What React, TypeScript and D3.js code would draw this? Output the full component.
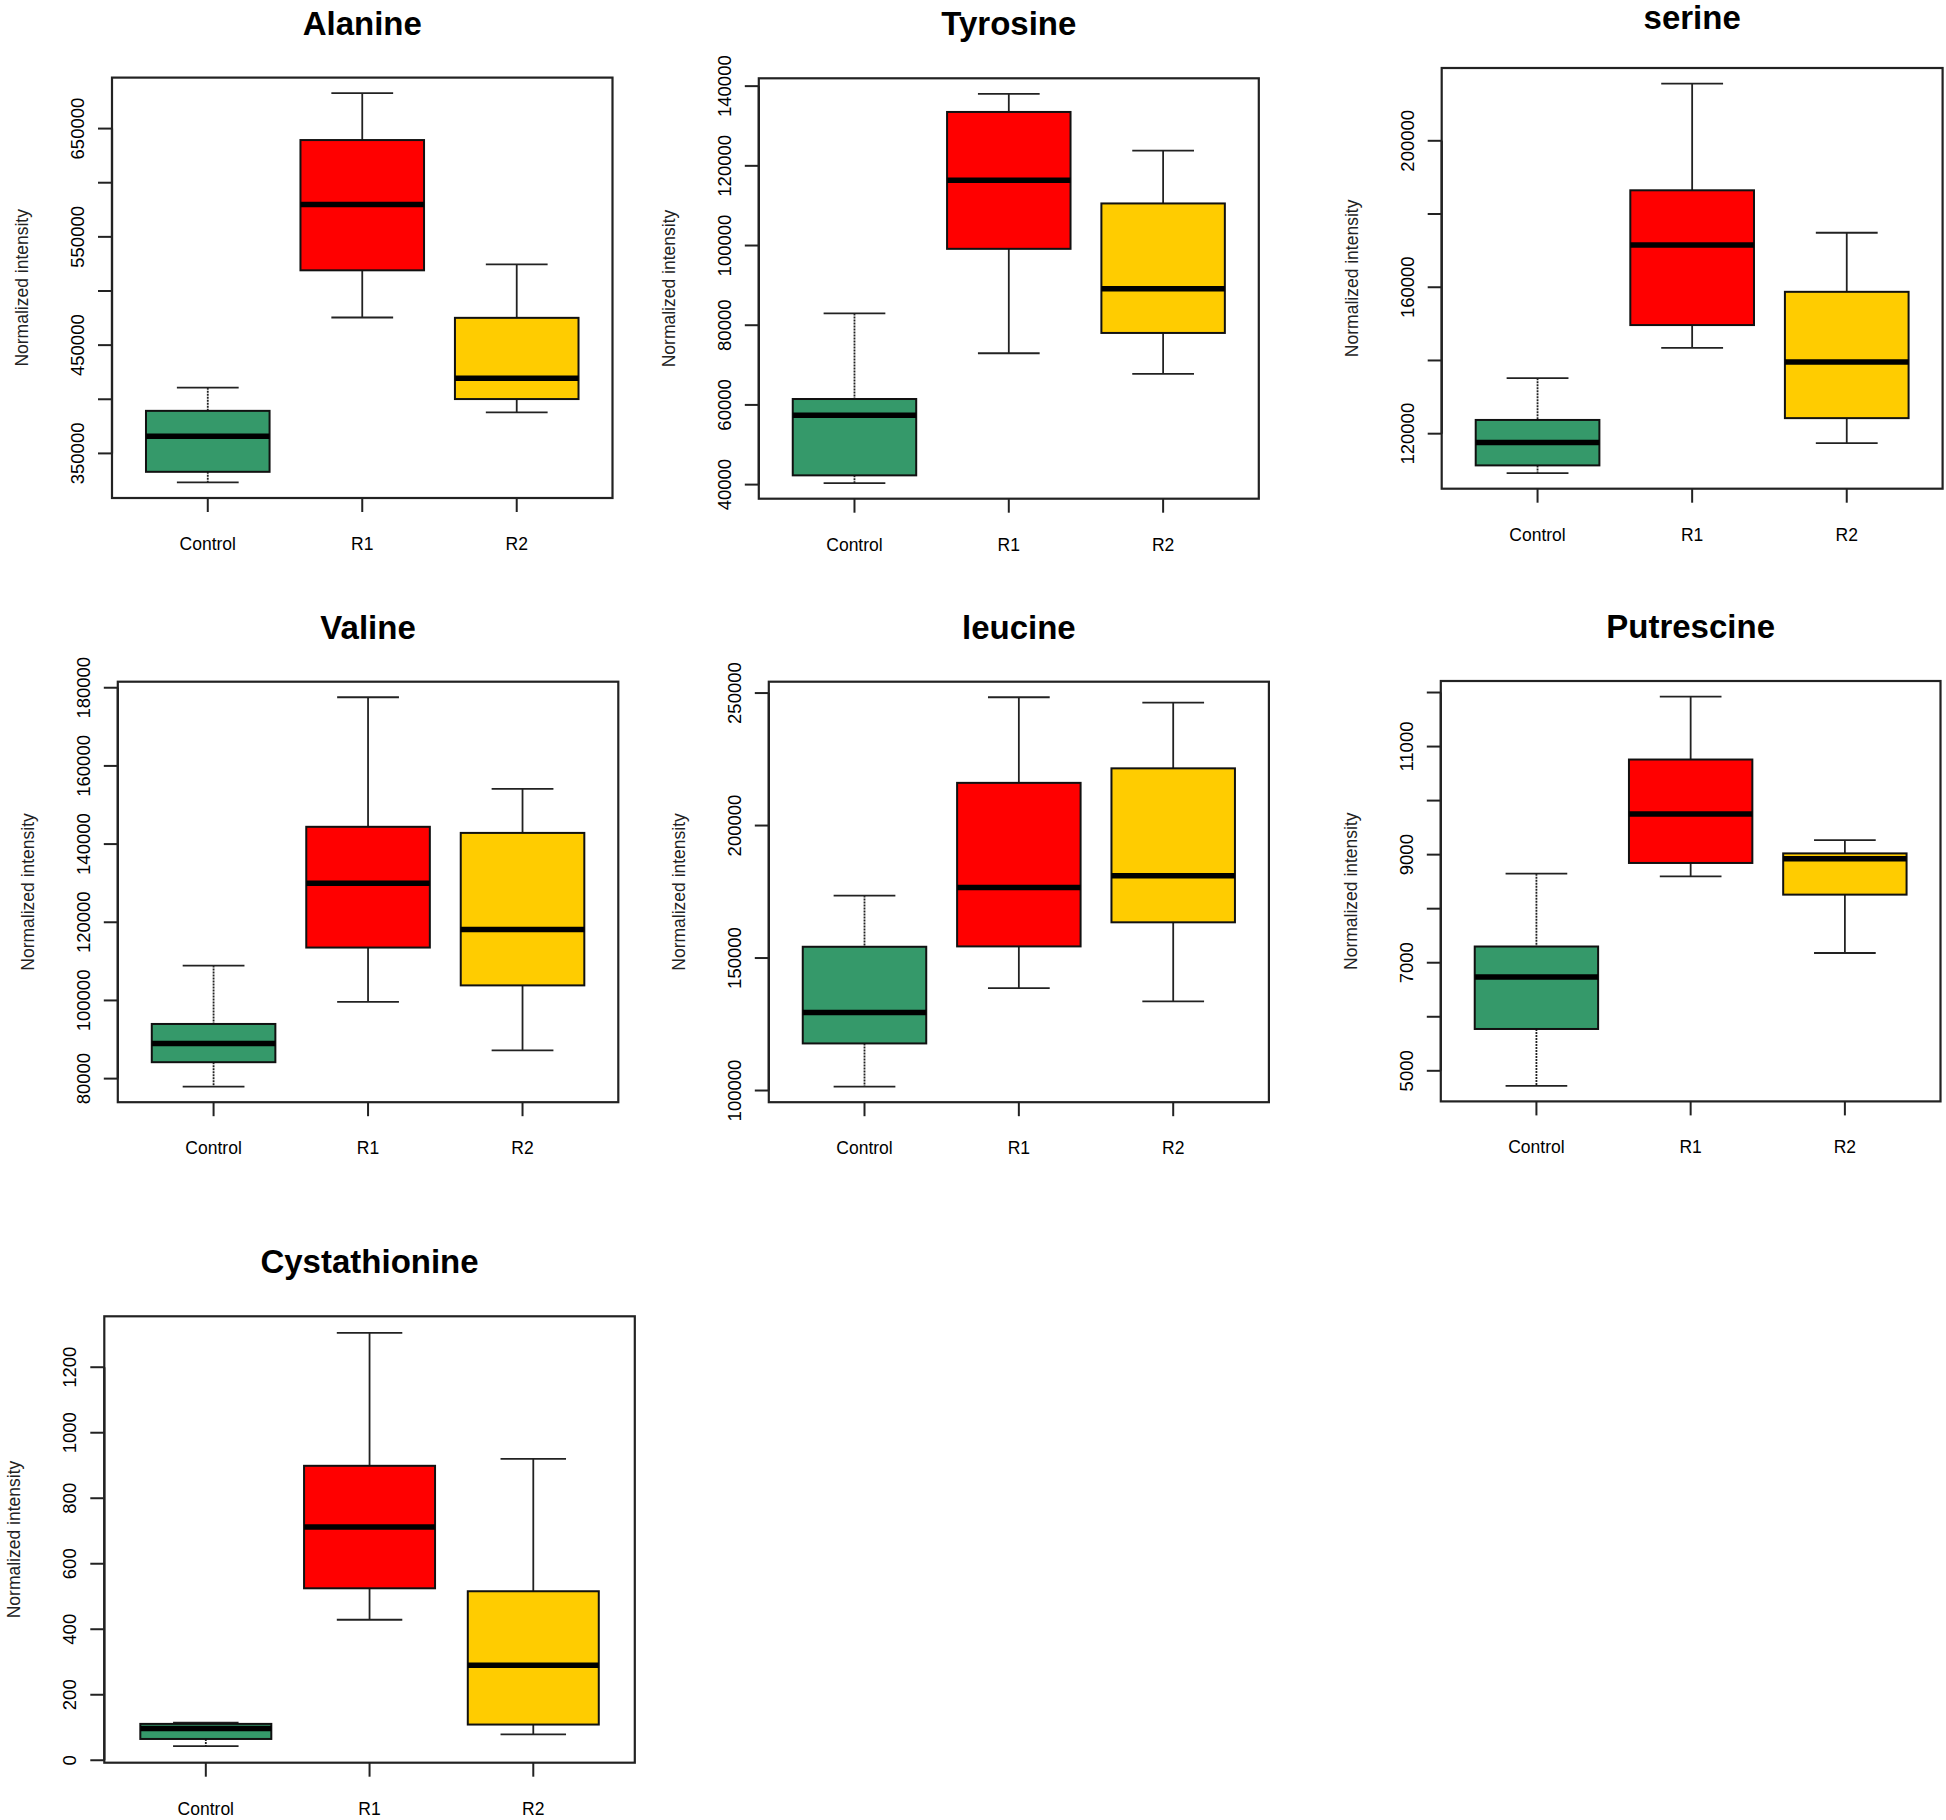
import React from 'react';
import * as d3 from 'd3';

// groups shared by every panel
const groups = ['Control', 'R1', 'R2'];
const groupColors = ['#35996a', '#ff0000', '#ffcc00'];

// box stats per group: [lower whisker, Q1, median, Q3, upper whisker]
const alanine = [
  [323200, 333000, 365800, 389300, 410700],
  [475500, 519100, 579800, 639400, 682700],
  [387900, 400200, 419300, 475200, 524600],
];
const tyrosine = [
  [40370, 42320, 57410, 61480, 82960],
  [72970, 99170, 116390, 133520, 138060],
  [67780, 78060, 89170, 110560, 123800],
];
const serine = [
  [109230, 111340, 117600, 123750, 135150],
  [143420, 149670, 171560, 186480, 215630],
  [117400, 124250, 139580, 158750, 174890],
];
const valine = [
  [77950, 84200, 88990, 93980, 108930],
  [99650, 113530, 129950, 144420, 177560],
  [87240, 103850, 118120, 142860, 154100],
];
const leucine = [
  [101470, 117770, 129450, 154250, 173570],
  [138680, 154390, 176600, 216110, 248410],
  [133630, 163480, 181070, 221590, 246400],
];
const putrescine = [
  [4722, 5774, 6735, 7300, 8648],
  [8599, 8846, 9750, 10760, 11925],
  [7180, 8260, 8924, 9023, 9270],
];
const cystathionine = [
  [43, 65, 97, 111, 115],
  [429, 525, 712, 899, 1305],
  [79, 109, 290, 516, 920],
];

// y ticks and the ones that carry a label
const alanineTicks = [350000, 400000, 450000, 500000, 550000, 600000, 650000];
const alanineLabels = [350000, 450000, 550000, 650000];
const tyrosineTicks = [40000, 60000, 80000, 100000, 120000, 140000];
const serineTicks = [120000, 140000, 160000, 180000, 200000];
const serineLabels = [120000, 160000, 200000];
const valineTicks = [80000, 100000, 120000, 140000, 160000, 180000];
const leucineTicks = [100000, 150000, 200000, 250000];
const putrescineTicks = [5000, 6000, 7000, 8000, 9000, 10000, 11000, 12000];
const putrescineLabels = [5000, 7000, 9000, 11000];
const cystathionineTicks = [0, 200, 400, 600, 800, 1000, 1200];

const panels = [
  { title: 'Alanine', stats: alanine, ticks: alanineTicks, labels: alanineLabels, x: 112, y: 77.6, w: 500.5, h: 420.4 },
  { title: 'Tyrosine', stats: tyrosine, ticks: tyrosineTicks, labels: tyrosineTicks, x: 758.8, y: 78.3, w: 500, h: 420.4 },
  { title: 'serine', stats: serine, ticks: serineTicks, labels: serineLabels, x: 1441.7, y: 68, w: 500.9, h: 420.7 },
  { title: 'Valine', stats: valine, ticks: valineTicks, labels: valineTicks, x: 117.8, y: 681.7, w: 500.5, h: 420.5 },
  { title: 'leucine', stats: leucine, ticks: leucineTicks, labels: leucineTicks, x: 768.8, y: 681.7, w: 500.1, h: 420.5 },
  { title: 'Putrescine', stats: putrescine, ticks: putrescineTicks, labels: putrescineLabels, x: 1440.8, y: 681, w: 499.7, h: 420.4 },
  { title: 'Cystathionine', stats: cystathionine, ticks: cystathionineTicks, labels: cystathionineTicks, x: 104.3, y: 1316.3, w: 530.5, h: 446.4 },
];

const FONT = '"Liberation Sans", Arial, sans-serif';

const Panel = ({ p }) => {
  const all = p.stats.flat();
  const [lo, hi] = d3.extent(all);
  const pad = (hi - lo) * 0.04;
  const y = d3.scaleLinear().domain([lo - pad, hi + pad]).range([p.y + p.h, p.y]);
  const x = d3.scaleLinear().domain([0.38, 3.62]).range([p.x, p.x + p.w]);
  const bw = x(0.4) - x(0);
  const cw = x(0.2) - x(0);
  const bottom = p.y + p.h;
  // keep the title inside the page (serine sits at the top edge)
  const titleY = Math.max(p.y - 43, 29);

  return (
    <g>
      <text x={p.x + p.w / 2} y={titleY} textAnchor="middle" fontFamily={FONT} fontWeight="bold" fontSize={33}>
        {p.title}
      </text>
      {p.stats.map((s, i) => {
        const cx = x(i + 1);
        const dash = i === 0 ? '2 1' : null;
        return (
          <g key={i}>
            <line x1={cx} x2={cx} y1={y(s[4])} y2={y(s[3])} stroke="#222" strokeWidth={1.8} strokeDasharray={dash} />
            <line x1={cx} x2={cx} y1={y(s[1])} y2={y(s[0])} stroke="#222" strokeWidth={1.8} strokeDasharray={dash} />
            <line x1={cx - cw} x2={cx + cw} y1={y(s[4])} y2={y(s[4])} stroke="#222" strokeWidth={1.8} />
            <line x1={cx - cw} x2={cx + cw} y1={y(s[0])} y2={y(s[0])} stroke="#222" strokeWidth={1.8} />
            <rect x={cx - bw} y={y(s[3])} width={bw * 2} height={y(s[1]) - y(s[3])}
              fill={groupColors[i]} stroke="#111" strokeWidth={2} />
            <line x1={cx - bw} x2={cx + bw} y1={y(s[2])} y2={y(s[2])} stroke="#000" strokeWidth={5.5} />
          </g>
        );
      })}
      <rect x={p.x} y={p.y} width={p.w} height={p.h} fill="none" stroke="#222" strokeWidth={2.2} />
      {/* x axis */}
      {groups.map((g, i) => (
        <g key={g}>
          <line x1={x(i + 1)} x2={x(i + 1)} y1={bottom} y2={bottom + 14} stroke="#222" strokeWidth={2} />
          <text x={x(i + 1)} y={bottom + 52} textAnchor="middle" fontFamily={FONT} fontSize={17.5}>{g}</text>
        </g>
      ))}
      {/* y axis */}
      <line x1={p.x} x2={p.x} y1={y(p.ticks[0])} y2={y(p.ticks[p.ticks.length - 1])} stroke="#222" strokeWidth={2.2} />
      {p.ticks.map((t) => (
        <line key={t} x1={p.x - 14} x2={p.x} y1={y(t)} y2={y(t)} stroke="#222" strokeWidth={2} />
      ))}
      {p.labels.map((t) => (
        <text key={t} transform={`translate(${p.x - 28},${y(t)}) rotate(-90)`} textAnchor="middle"
          fontFamily={FONT} fontSize={18.5}>{t}</text>
      ))}
      <text transform={`translate(${p.x - 84},${p.y + p.h / 2}) rotate(-90)`} textAnchor="middle"
        fontFamily={FONT} fontSize={17.5} fill="#222">Normalized intensity</text>
    </g>
  );
};

const App = () => (
  <svg width={1946} height={1820} style={{ position: 'absolute', left: 0, top: 0, background: '#fff' }}>
    <rect width={1946} height={1820} fill="#fff" />
    {panels.map((p) => <Panel key={p.title} p={p} />)}
  </svg>
);

export default App;
